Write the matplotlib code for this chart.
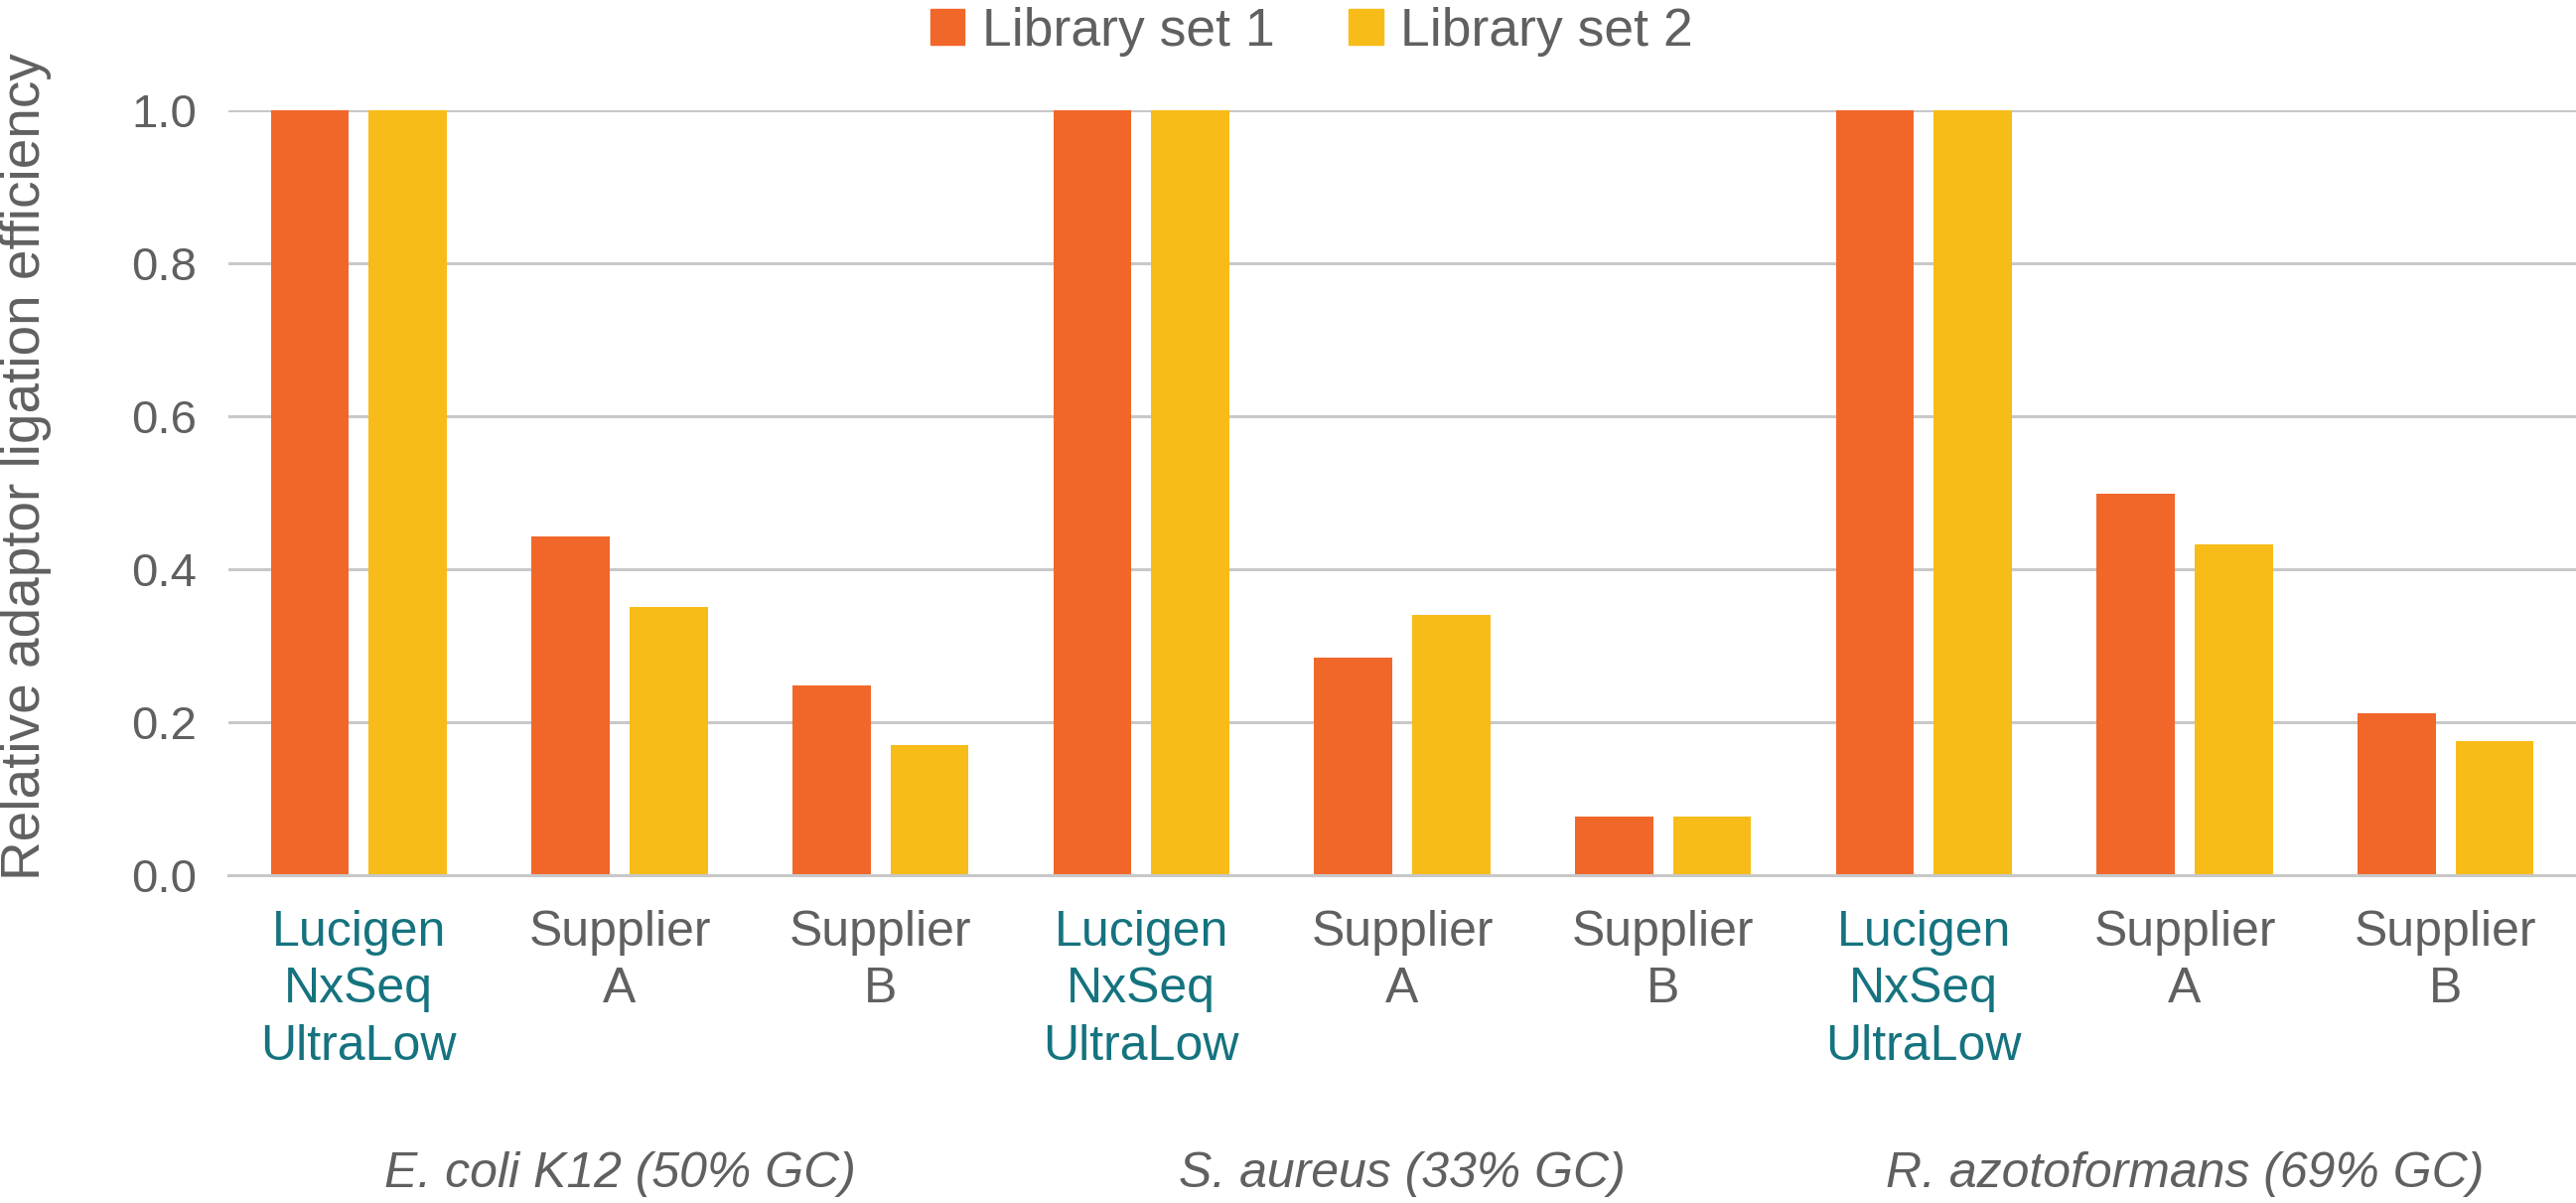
import numpy as np
import matplotlib
matplotlib.use('Agg')
import matplotlib.pyplot as plt
from matplotlib.patches import Patch

plt.rcParams['font.family'] = ['Liberation Sans', 'DejaVu Sans']

groups = ['E. coli K12 (50% GC)', 'S. aureus (33% GC)', 'R. azotoformans (69% GC)']
kits = ['Lucigen\nNxSeq\nUltraLow', 'Supplier\nA', 'Supplier\nB']
series_names = ['Library set 1', 'Library set 2']
set1 = [1.0, 0.443, 0.248, 1.0, 0.284, 0.076, 1.0, 0.499, 0.212]
set2 = [1.0, 0.351, 0.170, 1.0, 0.340, 0.076, 1.0, 0.433, 0.175]

orange = '#F1672A'
yellow = '#F8BC18'
gray_txt = '#606060'
teal = '#15737F'
grid_c = '#C8C8C8'

W, H = 2594, 1211
fig = plt.figure(figsize=(W / 100, H / 100), dpi=100)
ax = fig.add_axes([230 / W, 1 - 881 / H, (W - 230) / W, (881 - 111) / H])

x = np.arange(len(set1))
bw = 0.30
off = 0.188
ax.bar(x - off, set1, bw, color=orange, zorder=3)
ax.bar(x + off, set2, bw, color=yellow, zorder=3)

ax.set_xlim(-0.5, len(set1) - 0.5)
ax.set_ylim(0, 1.0)
ax.set_yticks(np.arange(0, 1.01, 0.2))
ax.set_yticklabels([f'{v:.1f}' for v in np.arange(0, 1.01, 0.2)])
ax.yaxis.grid(True, color=grid_c, linewidth=2.2, zorder=0)
ax.set_axisbelow(True)
for s in ax.spines.values():
    s.set_visible(False)
ax.axhline(0, color=grid_c, linewidth=2.2, zorder=4, clip_on=False)

labels = kits * len(groups)
ax.set_xticks(x)
ax.set_xticklabels(labels, fontsize=36, linespacing=1.32)
for i, t in enumerate(ax.get_xticklabels()):
    t.set_color(teal if i % 3 == 0 else gray_txt)
ax.tick_params(axis='x', length=0, pad=25)
ax.tick_params(axis='y', length=0, pad=23, labelsize=34, labelcolor=gray_txt)

# group names under the middle category of each group
for g, name in enumerate(groups):
    fig.text((230 + (3 * g + 1.5) * (W - 230) / 9) / W, 16 / H, name,
             ha='center', va='baseline', fontsize=36, style='italic', color=gray_txt)

fig.text(0.0, 1 - 470 / H, 'Relative adaptor ligation efficiency', rotation=90,
         ha='left', va='center', fontsize=39.5, color=gray_txt)

handles = [Patch(color=orange), Patch(color=yellow)]
fig.legend(handles, series_names, loc='upper center', bbox_to_anchor=(1321 / W, 1 - 4 / H),
           ncol=2, frameon=False, fontsize=38.5, labelcolor=gray_txt,
           handlelength=0.64, handleheight=0.64, handletextpad=0.33,
           columnspacing=1.4, borderpad=0.05, borderaxespad=0)

plt.savefig('out.png', dpi=100)
